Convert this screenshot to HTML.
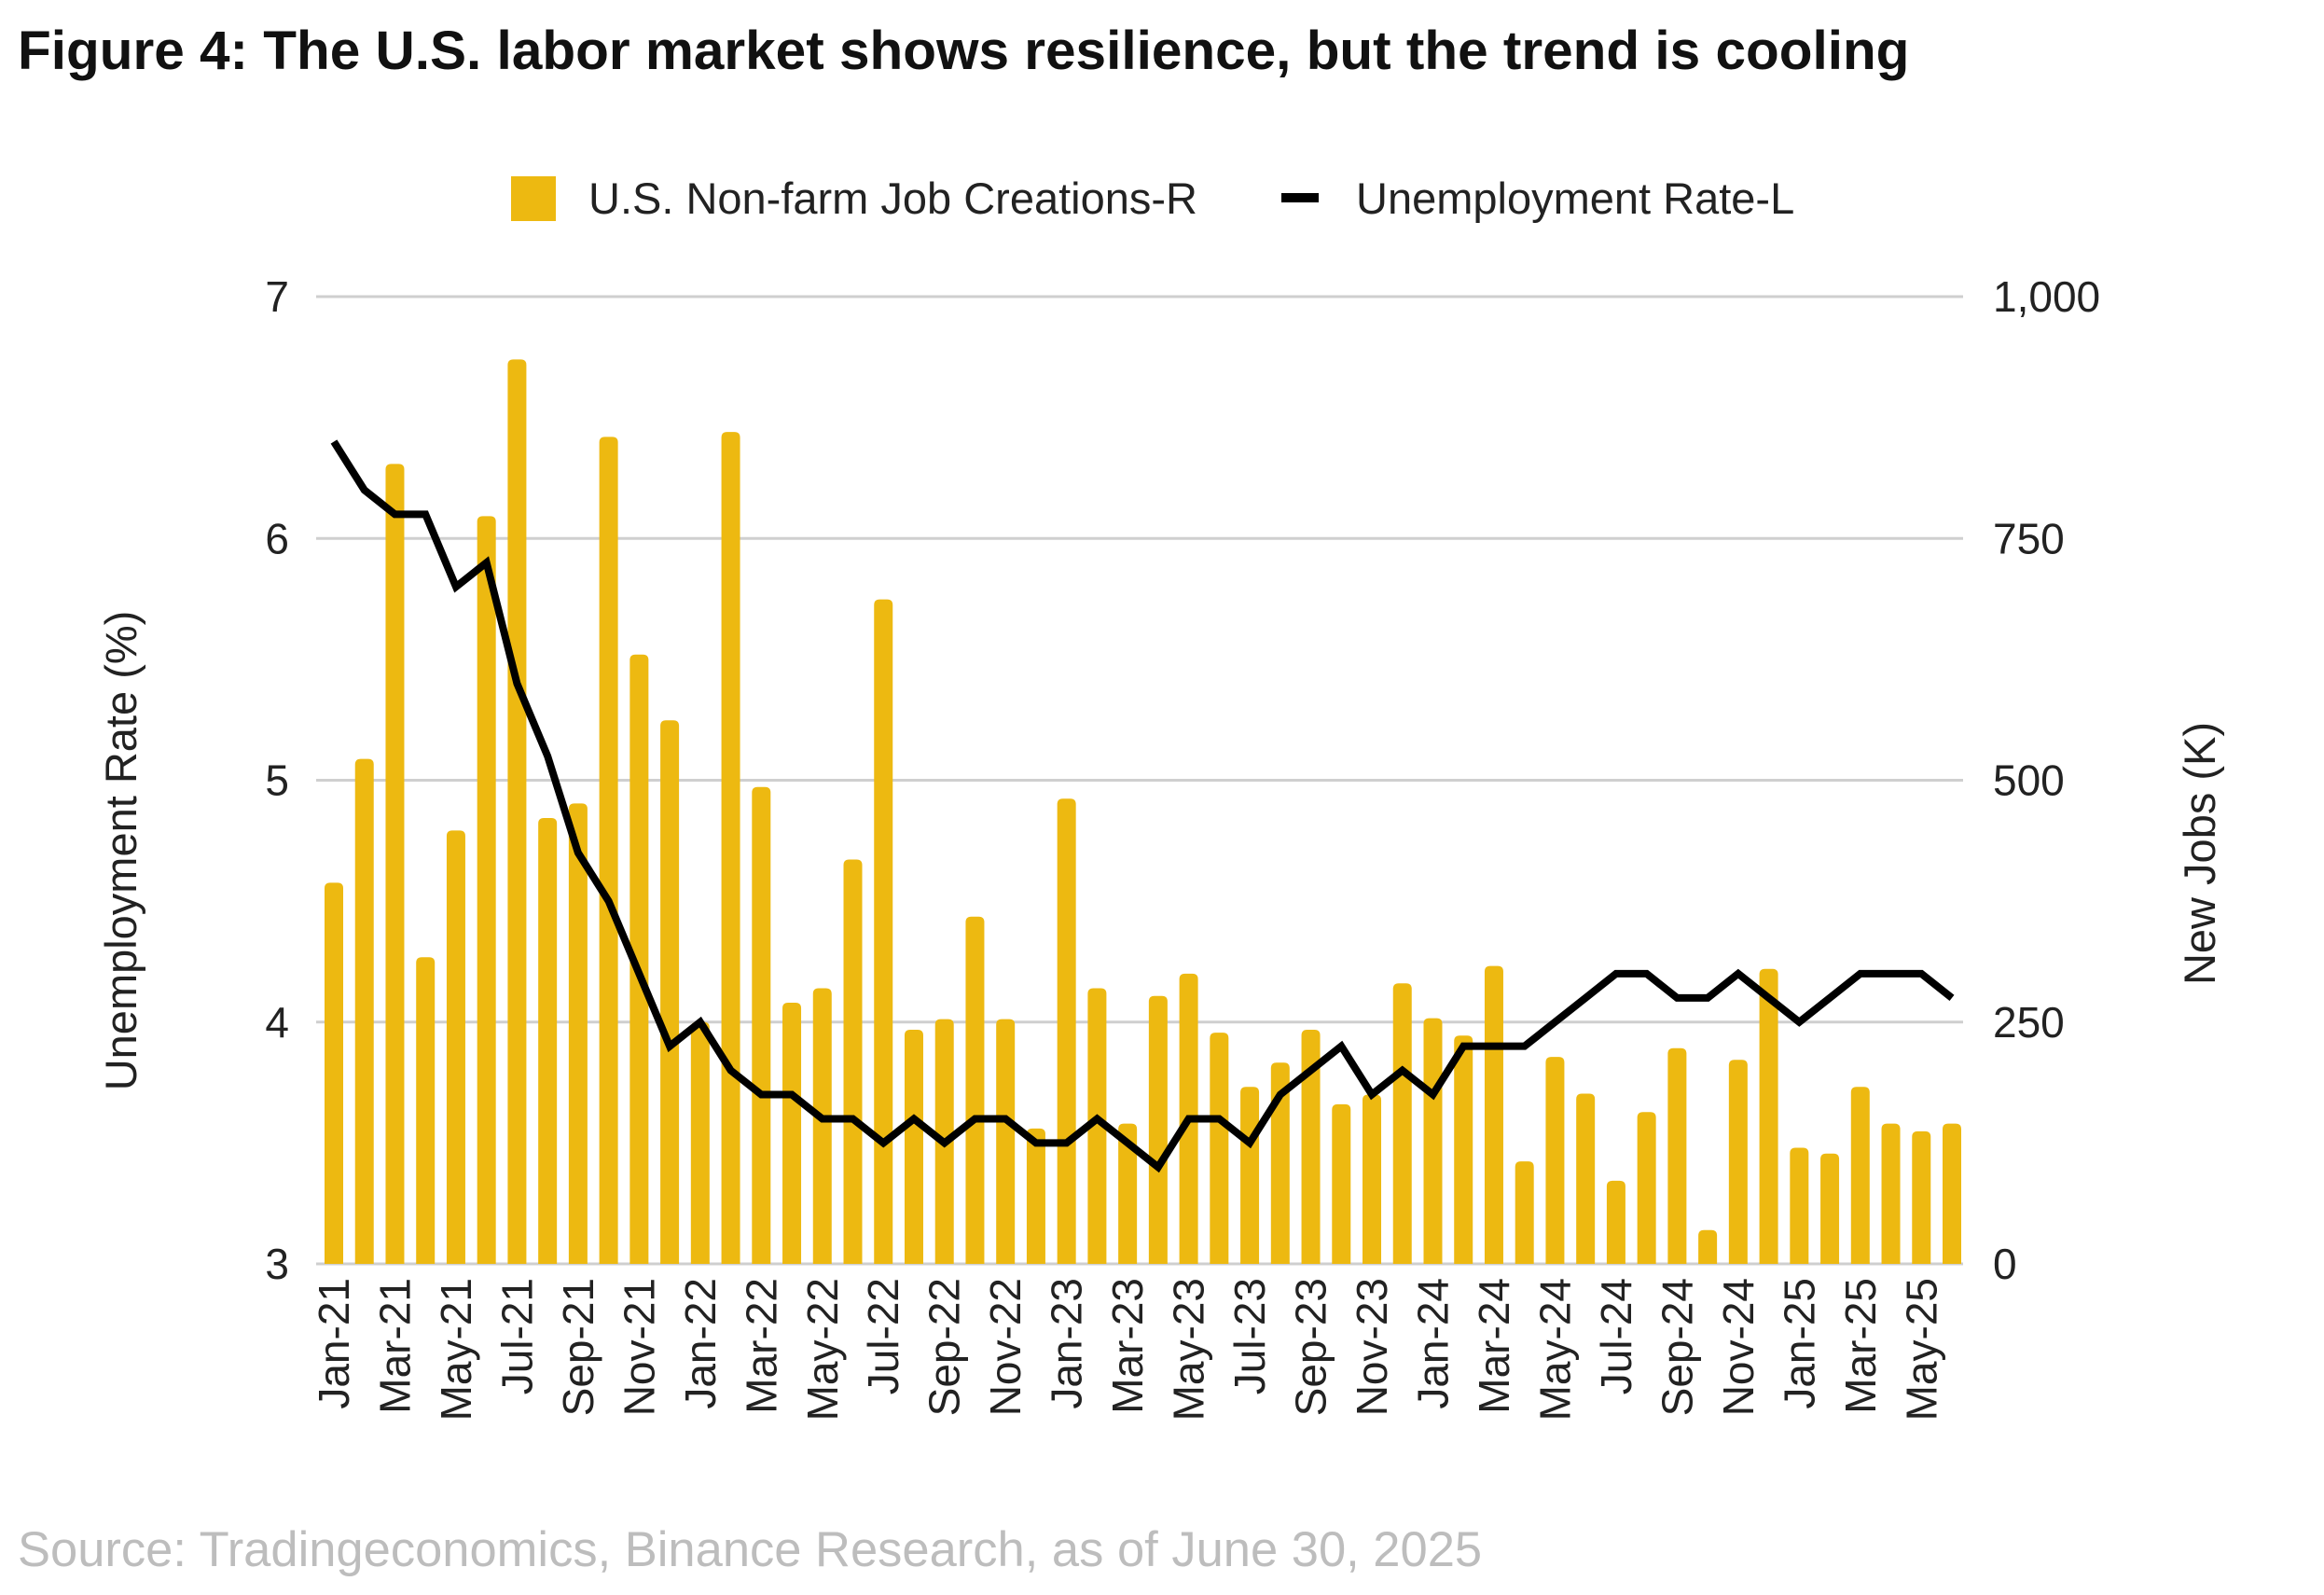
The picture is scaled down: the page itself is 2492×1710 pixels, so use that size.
<!DOCTYPE html>
<html><head><meta charset="utf-8"><style>
body{margin:0;background:#fff;}
svg{display:block;font-family:"Liberation Sans",Arial,sans-serif;}
</style></head><body>
<svg id="chart" width="2492" height="1710" viewBox="0 0 2492 1710" xmlns="http://www.w3.org/2000/svg">
<text x="19" y="74" font-size="58.5" font-weight="bold" fill="#111">Figure 4: The U.S. labor market shows resilience, but the trend is cooling</text>
<g id="grid"></g><g id="bars"></g><g id="line"></g><g id="ticks"></g><g id="xlabels"></g>
<g>
<rect x="548" y="189" width="48" height="48" fill="#EDB911"/>
<text x="631" y="229" font-size="47" fill="#222">U.S. Non-farm Job Creations-R</text>
<rect x="1374" y="207" width="40" height="10" fill="#000"/>
<text x="1454" y="229" font-size="47" fill="#222">Unemployment Rate-L</text>
</g>
<text transform="translate(146,912) rotate(-90)" text-anchor="middle" font-size="47" fill="#222">Unemployment Rate (%)</text>
<text transform="translate(2375,915) rotate(-90)" text-anchor="middle" font-size="47" fill="#222">New Jobs (K)</text>
<text x="19" y="1679" font-size="52.5" fill="#bdbdbd">Source: Tradingeconomics, Binance Research, as of June 30, 2025</text>
</svg>
<script>
const months=["Jan","Feb","Mar","Apr","May","Jun","Jul","Aug","Sep","Oct","Nov","Dec"];
const categories=[];for(let y=21;y<=25;y++)for(let m=0;m<12;m++){if(y===25&&m>5)break;categories.push(months[m]+"-"+y);}
const jobs=[394,522,827,317,448,773,935,461,476,855,630,562,250,860,493,270,285,418,687,242,253,359,253,140,481,285,145,277,300,239,183,208,242,165,175,290,254,236,308,106,214,176,86,157,223,35,211,305,120,114,183,145,137,145];
const rate=[6.4,6.2,6.1,6.1,5.8,5.9,5.4,5.1,4.7,4.5,4.2,3.9,4.0,3.8,3.7,3.7,3.6,3.6,3.5,3.6,3.5,3.6,3.6,3.5,3.5,3.6,3.5,3.4,3.6,3.6,3.5,3.7,3.8,3.9,3.7,3.8,3.7,3.9,3.9,3.9,4.0,4.1,4.2,4.2,4.1,4.1,4.2,4.1,4.0,4.1,4.2,4.2,4.2,4.1];
const leftTicks=[3,4,5,6,7];
const rightTicks=["0","250","500","750","1,000"];
const rightVals=[0,250,500,750,1000];
const NS="http://www.w3.org/2000/svg";
const L=339,R=2105,T=318,B=1355;
const x0=358,x1=2093;
const X=i=>x0+(x1-x0)*i/(categories.length-1);
const YL=v=>B-(v-3)/4*(B-T);
const YR=v=>B-v/1000*(B-T);
function mk(t,a,p){const e=document.createElementNS(NS,t);for(const k in a)e.setAttribute(k,a[k]);p.appendChild(e);return e;}
const grid=document.getElementById('grid'),ticks=document.getElementById('ticks');
leftTicks.forEach((v,i)=>{
 const g=mk('line',{x1:L,x2:R,y1:YL(v),y2:YL(v),stroke:'#cfcfcf','stroke-width':3},grid);
 
 
 const t=mk('text',{x:310,y:YL(v)+16,'text-anchor':'end','font-size':46,fill:'#222'},ticks);t.textContent=v;
 
 
 const t2=mk('text',{x:2137,y:YR(rightVals[i])+16,'font-size':46,fill:'#222'},ticks);t2.textContent=rightTicks[i];
 
 
});
const bars=document.getElementById('bars');
const bw=20;
jobs.forEach((v,i)=>{
 const y=YR(v);
 const p=mk('path',{d:`M${X(i)-bw/2},${B} V${y+6} Q${X(i)-bw/2},${y} ${X(i)-bw/2+6},${y} H${X(i)+bw/2-6} Q${X(i)+bw/2},${y} ${X(i)+bw/2},${y+6} V${B} Z`,fill:'#EDB911'},bars);
 
 
});
const line=document.getElementById('line');
const pl=mk('polyline',{points:rate.map((v,i)=>X(i)+','+YL(v)).join(' '),fill:'none',stroke:'#000','stroke-width':8,'stroke-linejoin':'miter'},line);


const xl=document.getElementById('xlabels');
categories.forEach((c,i)=>{if(i%2)return;
 const t=mk('text',{transform:`translate(${X(i)+16},1370) rotate(-90)`,'text-anchor':'end','font-size':46,fill:'#222'},xl);t.textContent=c;
 
 
});
</script>
</body></html>
